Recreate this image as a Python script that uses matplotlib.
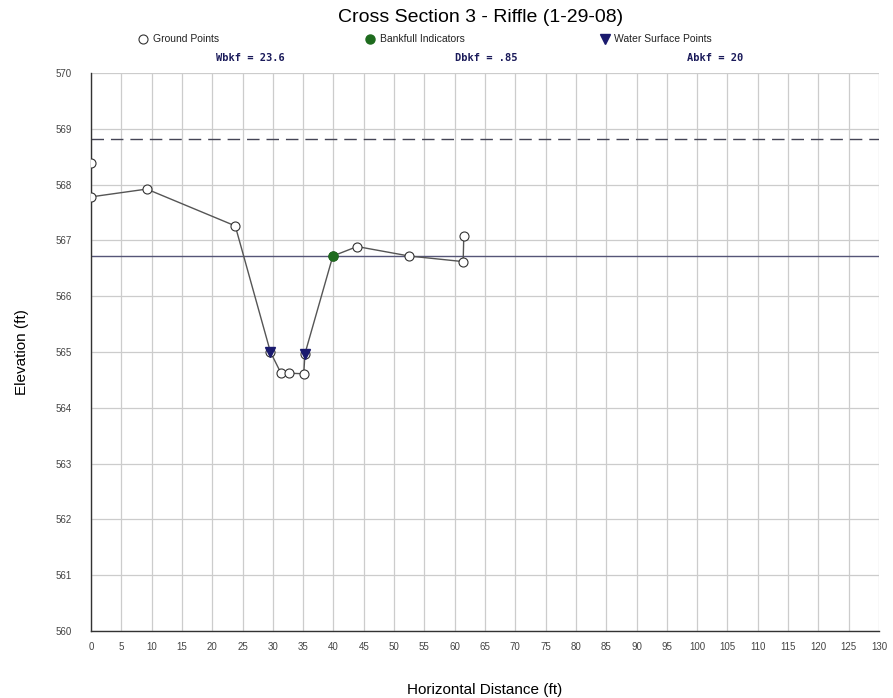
import matplotlib
matplotlib.use("Agg")
import matplotlib.pyplot as plt

# Data
ground_x = [0.0, 9.2, 23.8, 29.6, 31.3, 32.7, 35.1, 35.3, 39.9, 43.9, 52.5, 61.4, 61.5]
ground_y = [567.78, 567.92, 567.26, 565.0, 564.63, 564.62, 564.61, 564.97, 566.72, 566.89, 566.72, 566.62, 567.07]
extra_x = [0.0]
extra_y = [568.38]
bankfull_x = [39.9]
bankfull_y = [566.72]
ws_x = [29.6, 35.3]
ws_y = [565.0, 564.97]
bankfull_elev = 566.72
floodprone_elev = 568.82
stats = ["Wbkf = 23.6", "Dbkf = .85", "Abkf = 20"]
title = "Cross Section 3 - Riffle (1-29-08)"
xticks = list(range(0, 131, 5))
yticks = list(range(560, 571, 1))

plt.rcParams['font.family'] = ['Liberation Sans', 'DejaVu Sans']
fig = plt.figure(figsize=(8.93, 6.98), dpi=100)
ax = fig.add_axes([0.1019, 0.096, 0.8824, 0.7994])

ax.set_xlim(0, 130)
ax.set_ylim(560, 570)
ax.set_xticks(xticks)
ax.set_yticks(yticks)
ax.grid(True, color='#cccccc', linewidth=0.9)
ax.set_axisbelow(True)
for s in ['top', 'right']:
    ax.spines[s].set_visible(False)
for s in ['left', 'bottom']:
    ax.spines[s].set_color('#333333')
    ax.spines[s].set_linewidth(1.0)
ax.tick_params(axis='both', length=0, labelsize=7, colors='#444444', pad=8)
ax.tick_params(axis='y', pad=14)

ax.axhline(floodprone_elev, color='#444455', linewidth=1.0, linestyle=(0, (9, 5)))
ax.axhline(bankfull_elev, color='#555577', linewidth=1.0)

ax.plot(ground_x, ground_y, color='#555555', linewidth=1.0, zorder=3)
ax.plot(ground_x + extra_x, ground_y + extra_y, linestyle='none', marker='o', markersize=6.5,
        markerfacecolor='white', markeredgecolor='#333333', markeredgewidth=0.8, zorder=4)
ax.plot(ws_x, ws_y, linestyle='none', marker='v', markersize=7.5, color='#1a1a6e', zorder=5)
ax.plot(bankfull_x, bankfull_y, linestyle='none', marker='o', markersize=6.5, color='#1e6b1e', zorder=5)

ax.set_xlabel("Horizontal Distance (ft)", fontsize=11, labelpad=22)
ax.set_ylabel("Elevation (ft)", fontsize=11, labelpad=19)

fig.text(0.538, 0.975, title, ha='center', va='center', fontsize=14)

# Legend row
leg_y = 0.944
lx = [0.160, 0.414, 0.677]
labels = ["Ground Points", "Bankfull Indicators", "Water Surface Points"]
ax_leg = fig.add_axes([0, 0, 1, 1], facecolor='none')
ax_leg.set_xlim(0, 1); ax_leg.set_ylim(0, 1); ax_leg.axis('off')
ax_leg.plot([lx[0]], [leg_y], marker='o', markersize=6.5, markerfacecolor='white', markeredgecolor='#333333', markeredgewidth=0.8)
ax_leg.plot([lx[1]], [leg_y], marker='o', markersize=6.5, color='#1e6b1e')
ax_leg.plot([lx[2]], [leg_y], marker='v', markersize=7.5, color='#1a1a6e')
for x, t in zip(lx, labels):
    ax_leg.text(x + 0.011, leg_y, t, fontsize=7.5, va='center', ha='left', color='#222222')

sx = [0.28, 0.545, 0.801]
for x, t in zip(sx, stats):
    ax_leg.text(x, 0.917, t, fontsize=7.5, va='center', ha='center', color='#1a1a5a',
                family='DejaVu Sans Mono', fontweight='bold')

fig.savefig("out.png", dpi=100)
